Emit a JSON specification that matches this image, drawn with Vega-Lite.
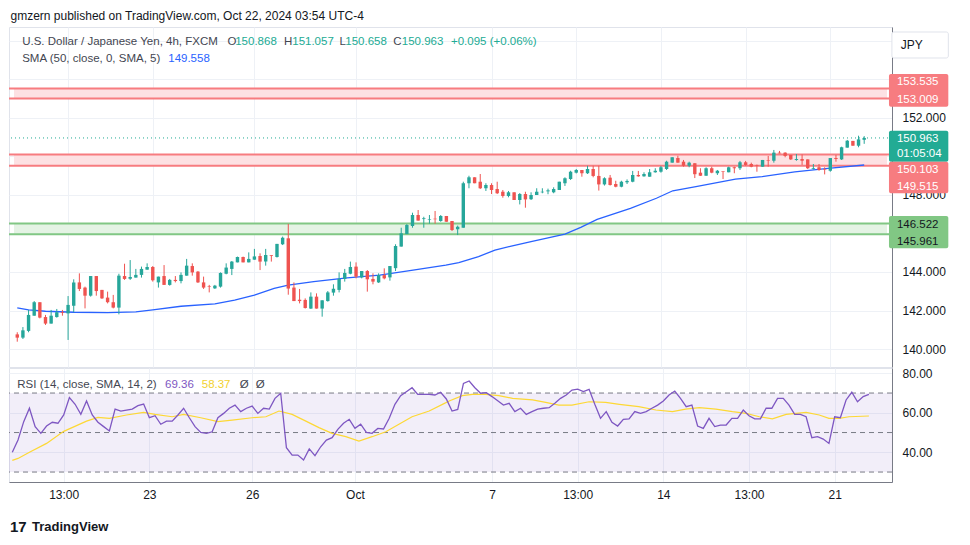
{
  "$schema": "https://vega.github.io/schema/vega-lite/v6.json",
  "background": "#ffffff",
  "padding": {"left": 7, "top": 9, "right": 0, "bottom": 0},
  "title": {"text": "gmzern published on TradingView.com, Oct 22, 2024 03:54 UTC-4", "anchor": "start", "frame": "bounds", "dx": 3, "fontSize": 12, "fontWeight": "normal", "font": "Liberation Sans", "color": "#131722", "offset": 4},
  "config": {
    "view": {"stroke": "#e0e3eb"},
    "axis": {"gridColor": "#eef1f6", "labelFont": "Liberation Sans", "labelFontSize": 12, "labelColor": "#131722", "ticks": false, "tickSize": 0, "domainColor": "#787b86"},
    "text": {"font": "Liberation Sans"}
  },
  "datasets": {
    "candles": [
      {"i":0,"o":140.76,"h":140.87,"l":140.38,"c":140.59,"rsi":40.0},
      {"i":1,"o":140.59,"h":141.14,"l":140.52,"c":140.97,"rsi":46.2},
      {"i":2,"o":140.94,"h":142.03,"l":140.87,"c":141.77,"rsi":55.5},
      {"i":3,"o":141.73,"h":142.49,"l":141.73,"c":142.43,"rsi":62.3},
      {"i":4,"o":142.43,"h":142.43,"l":141.59,"c":141.63,"rsi":53.0},
      {"i":5,"o":141.66,"h":141.77,"l":141.25,"c":141.32,"rsi":49.6},
      {"i":6,"o":141.32,"h":142.03,"l":141.32,"c":141.73,"rsi":53.3},
      {"i":7,"o":141.66,"h":142.08,"l":141.63,"c":141.91,"rsi":55.2},
      {"i":8,"o":141.91,"h":142.03,"l":141.73,"c":141.87,"rsi":54.7},
      {"i":9,"o":141.85,"h":142.75,"l":140.47,"c":142.29,"rsi":58.9},
      {"i":10,"o":142.25,"h":143.62,"l":141.91,"c":143.46,"rsi":67.7},
      {"i":11,"o":143.46,"h":143.93,"l":143.01,"c":143.12,"rsi":64.3},
      {"i":12,"o":143.19,"h":143.24,"l":142.11,"c":142.77,"rsi":59.2},
      {"i":13,"o":142.77,"h":143.79,"l":142.72,"c":143.79,"rsi":66.0},
      {"i":14,"o":143.79,"h":143.79,"l":142.77,"c":143.01,"rsi":58.9},
      {"i":15,"o":143.07,"h":143.07,"l":142.60,"c":142.63,"rsi":55.2},
      {"i":16,"o":142.67,"h":142.98,"l":142.37,"c":142.43,"rsi":53.0},
      {"i":17,"o":142.43,"h":142.81,"l":142.11,"c":142.15,"rsi":50.8},
      {"i":18,"o":142.15,"h":143.91,"l":141.80,"c":143.81,"rsi":61.9},
      {"i":19,"o":143.79,"h":144.43,"l":143.59,"c":143.64,"rsi":60.9},
      {"i":20,"o":143.65,"h":144.62,"l":143.59,"c":143.74,"rsi":61.4},
      {"i":21,"o":143.71,"h":144.16,"l":143.71,"c":143.85,"rsi":61.9},
      {"i":22,"o":143.85,"h":144.28,"l":143.71,"c":144.16,"rsi":63.6},
      {"i":23,"o":144.12,"h":144.45,"l":144.12,"c":144.26,"rsi":64.4},
      {"i":24,"o":144.26,"h":144.31,"l":143.50,"c":143.57,"rsi":57.5},
      {"i":25,"o":143.46,"h":143.76,"l":143.19,"c":143.76,"rsi":58.5},
      {"i":26,"o":143.79,"h":144.36,"l":143.33,"c":143.33,"rsi":54.2},
      {"i":27,"o":143.33,"h":143.64,"l":143.29,"c":143.59,"rsi":55.8},
      {"i":28,"o":143.59,"h":143.79,"l":143.46,"c":143.53,"rsi":55.8},
      {"i":29,"o":143.53,"h":143.98,"l":143.41,"c":143.85,"rsi":58.9},
      {"i":30,"o":143.81,"h":144.68,"l":143.81,"c":144.33,"rsi":62.3},
      {"i":31,"o":144.31,"h":144.45,"l":143.81,"c":143.98,"rsi":57.5},
      {"i":32,"o":144.02,"h":144.05,"l":143.43,"c":143.46,"rsi":53.0},
      {"i":33,"o":143.46,"h":143.76,"l":143.12,"c":143.19,"rsi":50.1},
      {"i":34,"o":143.27,"h":143.33,"l":142.94,"c":143.24,"rsi":49.6},
      {"i":35,"o":143.15,"h":143.33,"l":143.12,"c":143.29,"rsi":50.4},
      {"i":36,"o":143.24,"h":143.98,"l":143.19,"c":143.95,"rsi":57.5},
      {"i":37,"o":143.91,"h":144.45,"l":143.88,"c":144.23,"rsi":59.7},
      {"i":38,"o":144.16,"h":144.57,"l":143.84,"c":144.54,"rsi":62.3},
      {"i":39,"o":144.50,"h":144.80,"l":144.50,"c":144.78,"rsi":63.9},
      {"i":40,"o":144.78,"h":144.80,"l":144.50,"c":144.50,"rsi":60.6},
      {"i":41,"o":144.50,"h":145.02,"l":144.50,"c":144.68,"rsi":62.3},
      {"i":42,"o":144.64,"h":145.20,"l":144.64,"c":144.81,"rsi":63.4},
      {"i":43,"o":144.83,"h":144.97,"l":144.10,"c":144.54,"rsi":59.7},
      {"i":44,"o":144.54,"h":145.20,"l":144.33,"c":144.88,"rsi":62.3},
      {"i":45,"o":144.87,"h":144.87,"l":144.54,"c":144.83,"rsi":61.9},
      {"i":46,"o":144.78,"h":145.46,"l":144.75,"c":145.46,"rsi":67.3},
      {"i":47,"o":145.44,"h":145.84,"l":145.40,"c":145.78,"rsi":69.9},
      {"i":48,"o":145.75,"h":146.50,"l":142.82,"c":143.14,"rsi":42.3},
      {"i":49,"o":143.19,"h":143.46,"l":142.49,"c":142.49,"rsi":38.6},
      {"i":50,"o":142.56,"h":143.12,"l":142.37,"c":142.49,"rsi":38.6},
      {"i":51,"o":142.55,"h":142.63,"l":142.10,"c":142.13,"rsi":36.1},
      {"i":52,"o":142.10,"h":142.94,"l":142.08,"c":142.72,"rsi":41.7},
      {"i":53,"o":142.72,"h":142.89,"l":142.10,"c":142.10,"rsi":38.3},
      {"i":54,"o":142.10,"h":142.53,"l":141.68,"c":142.53,"rsi":42.8},
      {"i":55,"o":142.49,"h":143.01,"l":142.46,"c":142.94,"rsi":46.2},
      {"i":56,"o":142.93,"h":143.36,"l":142.77,"c":143.13,"rsi":47.4},
      {"i":57,"o":143.07,"h":143.98,"l":142.94,"c":143.64,"rsi":51.6},
      {"i":58,"o":143.64,"h":144.16,"l":143.50,"c":143.95,"rsi":54.7},
      {"i":59,"o":143.91,"h":144.54,"l":143.88,"c":144.26,"rsi":56.7},
      {"i":60,"o":144.28,"h":144.50,"l":143.67,"c":143.76,"rsi":52.1},
      {"i":61,"o":143.72,"h":144.05,"l":143.67,"c":144.05,"rsi":54.2},
      {"i":62,"o":144.05,"h":144.10,"l":142.98,"c":143.62,"rsi":50.1},
      {"i":63,"o":143.64,"h":143.93,"l":143.36,"c":143.50,"rsi":49.6},
      {"i":64,"o":143.46,"h":143.93,"l":143.43,"c":143.84,"rsi":52.1},
      {"i":65,"o":143.84,"h":144.19,"l":143.62,"c":143.67,"rsi":51.8},
      {"i":66,"o":143.72,"h":144.31,"l":143.55,"c":144.31,"rsi":57.2},
      {"i":67,"o":144.20,"h":145.44,"l":144.05,"c":145.35,"rsi":64.3},
      {"i":68,"o":145.32,"h":146.30,"l":145.32,"c":146.01,"rsi":68.7},
      {"i":69,"o":145.97,"h":146.49,"l":145.97,"c":146.44,"rsi":70.7},
      {"i":70,"o":146.39,"h":147.08,"l":146.30,"c":146.96,"rsi":72.7},
      {"i":71,"o":146.96,"h":147.22,"l":146.67,"c":146.67,"rsi":69.3},
      {"i":72,"o":146.75,"h":146.87,"l":146.30,"c":146.79,"rsi":69.3},
      {"i":73,"o":146.72,"h":146.96,"l":146.51,"c":146.75,"rsi":69.3},
      {"i":74,"o":146.77,"h":147.17,"l":146.51,"c":146.74,"rsi":69.0},
      {"i":75,"o":146.65,"h":146.96,"l":146.61,"c":146.91,"rsi":70.4},
      {"i":76,"o":146.91,"h":146.91,"l":146.61,"c":146.61,"rsi":67.0},
      {"i":77,"o":146.65,"h":146.65,"l":146.13,"c":146.18,"rsi":60.9},
      {"i":78,"o":146.22,"h":146.41,"l":145.92,"c":146.35,"rsi":61.7},
      {"i":79,"o":146.30,"h":148.69,"l":146.30,"c":148.61,"rsi":74.9},
      {"i":80,"o":148.61,"h":149.00,"l":148.35,"c":148.92,"rsi":76.1},
      {"i":81,"o":148.92,"h":148.92,"l":148.61,"c":148.61,"rsi":72.7},
      {"i":82,"o":148.69,"h":149.09,"l":148.31,"c":148.35,"rsi":69.9},
      {"i":83,"o":148.35,"h":148.61,"l":148.21,"c":148.52,"rsi":70.2},
      {"i":84,"o":148.52,"h":148.61,"l":148.05,"c":148.26,"rsi":68.2},
      {"i":85,"o":148.31,"h":148.69,"l":148.05,"c":148.09,"rsi":66.1},
      {"i":86,"o":148.17,"h":148.26,"l":147.86,"c":147.95,"rsi":63.9},
      {"i":87,"o":147.95,"h":148.21,"l":147.88,"c":148.14,"rsi":64.8},
      {"i":88,"o":148.14,"h":148.14,"l":147.74,"c":147.74,"rsi":60.6},
      {"i":89,"o":147.74,"h":148.10,"l":147.51,"c":148.05,"rsi":62.3},
      {"i":90,"o":148.05,"h":148.17,"l":147.34,"c":147.77,"rsi":59.2},
      {"i":91,"o":147.78,"h":148.14,"l":147.74,"c":148.00,"rsi":60.6},
      {"i":92,"o":148.00,"h":148.35,"l":148.00,"c":148.17,"rsi":61.9},
      {"i":93,"o":148.14,"h":148.35,"l":148.09,"c":148.17,"rsi":62.3},
      {"i":94,"o":148.19,"h":148.33,"l":148.04,"c":148.24,"rsi":62.6},
      {"i":95,"o":148.14,"h":148.40,"l":148.09,"c":148.31,"rsi":64.8},
      {"i":96,"o":148.26,"h":148.69,"l":148.26,"c":148.69,"rsi":67.3},
      {"i":97,"o":148.61,"h":148.92,"l":148.47,"c":148.87,"rsi":69.0},
      {"i":98,"o":148.83,"h":149.26,"l":148.78,"c":149.21,"rsi":71.5},
      {"i":99,"o":149.16,"h":149.35,"l":149.12,"c":149.30,"rsi":72.0},
      {"i":100,"o":149.30,"h":149.30,"l":148.95,"c":149.13,"rsi":70.7},
      {"i":101,"o":149.13,"h":149.52,"l":149.09,"c":149.35,"rsi":71.9},
      {"i":102,"o":149.35,"h":149.52,"l":148.92,"c":148.99,"rsi":64.3},
      {"i":103,"o":148.99,"h":149.52,"l":148.23,"c":148.55,"rsi":57.2},
      {"i":104,"o":148.55,"h":148.92,"l":148.49,"c":148.87,"rsi":60.6},
      {"i":105,"o":148.90,"h":149.04,"l":148.49,"c":148.52,"rsi":55.2},
      {"i":106,"o":148.57,"h":148.74,"l":148.40,"c":148.43,"rsi":53.3},
      {"i":107,"o":148.43,"h":148.74,"l":148.40,"c":148.69,"rsi":56.7},
      {"i":108,"o":148.66,"h":148.81,"l":148.57,"c":148.73,"rsi":56.9},
      {"i":109,"o":148.69,"h":149.25,"l":148.66,"c":149.04,"rsi":60.6},
      {"i":110,"o":149.04,"h":149.25,"l":148.95,"c":148.97,"rsi":59.7},
      {"i":111,"o":148.97,"h":149.18,"l":148.95,"c":149.09,"rsi":60.6},
      {"i":112,"o":148.95,"h":149.35,"l":148.95,"c":149.18,"rsi":62.3},
      {"i":113,"o":149.18,"h":149.39,"l":149.16,"c":149.26,"rsi":63.9},
      {"i":114,"o":149.21,"h":149.51,"l":149.16,"c":149.44,"rsi":66.0},
      {"i":115,"o":149.35,"h":149.78,"l":149.30,"c":149.73,"rsi":69.0},
      {"i":116,"o":149.68,"h":149.96,"l":149.68,"c":149.96,"rsi":71.0},
      {"i":117,"o":149.92,"h":150.04,"l":149.68,"c":149.68,"rsi":67.3},
      {"i":118,"o":149.73,"h":149.82,"l":149.47,"c":149.52,"rsi":63.1},
      {"i":119,"o":149.52,"h":149.73,"l":149.44,"c":149.68,"rsi":63.9},
      {"i":120,"o":149.65,"h":149.65,"l":148.88,"c":149.08,"rsi":53.3},
      {"i":121,"o":149.16,"h":149.39,"l":148.99,"c":149.00,"rsi":52.1},
      {"i":122,"o":149.00,"h":149.44,"l":149.00,"c":149.39,"rsi":57.2},
      {"i":123,"o":149.39,"h":149.47,"l":149.13,"c":149.16,"rsi":53.0},
      {"i":124,"o":149.13,"h":149.30,"l":149.04,"c":149.26,"rsi":53.8},
      {"i":125,"o":149.23,"h":149.23,"l":148.83,"c":149.20,"rsi":53.8},
      {"i":126,"o":149.18,"h":149.47,"l":149.18,"c":149.44,"rsi":57.2},
      {"i":127,"o":149.44,"h":149.47,"l":149.13,"c":149.39,"rsi":57.2},
      {"i":128,"o":149.39,"h":149.77,"l":149.30,"c":149.70,"rsi":61.4},
      {"i":129,"o":149.70,"h":149.77,"l":149.52,"c":149.56,"rsi":58.5},
      {"i":130,"o":149.61,"h":149.68,"l":149.44,"c":149.47,"rsi":56.9},
      {"i":131,"o":149.54,"h":149.58,"l":149.21,"c":149.51,"rsi":56.9},
      {"i":132,"o":149.47,"h":149.82,"l":149.47,"c":149.82,"rsi":62.3},
      {"i":133,"o":149.80,"h":150.03,"l":149.47,"c":149.77,"rsi":62.3},
      {"i":134,"o":149.78,"h":150.34,"l":149.68,"c":150.20,"rsi":67.3},
      {"i":135,"o":150.20,"h":150.29,"l":150.16,"c":150.16,"rsi":67.3},
      {"i":136,"o":150.20,"h":150.22,"l":149.96,"c":150.03,"rsi":63.9},
      {"i":137,"o":150.08,"h":150.08,"l":149.82,"c":149.85,"rsi":59.2},
      {"i":138,"o":149.82,"h":150.13,"l":149.78,"c":149.87,"rsi":59.2},
      {"i":139,"o":149.87,"h":150.11,"l":149.56,"c":149.78,"rsi":58.0},
      {"i":140,"o":149.85,"h":149.85,"l":149.35,"c":149.39,"rsi":47.4},
      {"i":141,"o":149.35,"h":149.61,"l":149.33,"c":149.39,"rsi":47.9},
      {"i":142,"o":149.44,"h":149.61,"l":149.26,"c":149.30,"rsi":46.7},
      {"i":143,"o":149.33,"h":149.44,"l":149.07,"c":149.30,"rsi":44.5},
      {"i":144,"o":149.26,"h":149.92,"l":149.21,"c":149.92,"rsi":58.0},
      {"i":145,"o":149.92,"h":150.08,"l":149.73,"c":149.87,"rsi":57.5},
      {"i":146,"o":149.85,"h":150.51,"l":149.82,"c":150.48,"rsi":66.5},
      {"i":147,"o":150.46,"h":150.86,"l":150.46,"c":150.82,"rsi":70.4},
      {"i":148,"o":150.81,"h":150.81,"l":150.56,"c":150.56,"rsi":65.6},
      {"i":149,"o":150.56,"h":151.08,"l":150.48,"c":150.89,"rsi":68.2},
      {"i":150,"o":150.868,"h":151.057,"l":150.658,"c":150.963,"rsi":69.36}
    ],
    "sma": [
      {"i":0,"v":142.14},{"i":2,"v":142.03},{"i":5,"v":141.96},{"i":10,"v":141.91},{"i":16,"v":141.89},
      {"i":21,"v":141.93},{"i":24,"v":142.03},{"i":29,"v":142.22},{"i":35,"v":142.34},{"i":38.5,"v":142.54},
      {"i":42,"v":142.80},{"i":45.5,"v":143.15},{"i":48,"v":143.32},{"i":52.5,"v":143.50},{"i":58.4,"v":143.69},
      {"i":64.2,"v":143.84},{"i":70.1,"v":144.10},{"i":75.9,"v":144.36},{"i":78.2,"v":144.49},{"i":81.7,"v":144.80},
      {"i":84.6,"v":145.14},{"i":87.5,"v":145.35},{"i":91,"v":145.58},{"i":97,"v":145.97},{"i":99.8,"v":146.32},
      {"i":102.7,"v":146.73},{"i":108.6,"v":147.31},{"i":113.2,"v":147.83},{"i":116.1,"v":148.22},{"i":120.2,"v":148.43},
      {"i":127.2,"v":148.83},{"i":131.9,"v":148.95},{"i":137.7,"v":149.20},{"i":143.6,"v":149.38},{"i":150,"v":149.558}
    ],
    "rsima": [
      {"i":0,"v":35.9},{"i":1,"v":36.9},{"i":3,"v":40.0},{"i":6,"v":44.5},{"i":9,"v":50.6},{"i":13,"v":55.8},
      {"i":15,"v":57.7},{"i":17,"v":57.2},{"i":20,"v":58.9},{"i":23,"v":60.2},{"i":25,"v":59.2},{"i":28,"v":58.0},
      {"i":30,"v":59.2},{"i":33,"v":57.5},{"i":36,"v":55.5},{"i":38.5,"v":56.3},{"i":42,"v":57.5},{"i":44.4,"v":58.0},
      {"i":46.7,"v":60.9},{"i":49,"v":59.2},{"i":51.4,"v":55.8},{"i":53.7,"v":52.5},{"i":56,"v":49.6},{"i":58.4,"v":47.9},
      {"i":60.7,"v":45.7},{"i":63,"v":47.9},{"i":65.4,"v":50.4},{"i":67.7,"v":54.2},{"i":70,"v":58.0},{"i":73,"v":60.9},
      {"i":75.5,"v":64.5},{"i":76.5,"v":66.0},{"i":78.8,"v":68.7},{"i":80.6,"v":69.3},{"i":82.9,"v":69.3},{"i":85.2,"v":68.7},
      {"i":87.6,"v":67.3},{"i":91.1,"v":66.5},{"i":93.4,"v":65.3},{"i":95.7,"v":63.9},{"i":98,"v":63.9},{"i":101,"v":65.6},
      {"i":103.9,"v":65.3},{"i":106.3,"v":64.3},{"i":109.7,"v":63.1},{"i":112.7,"v":61.4},{"i":115.6,"v":60.6},{"i":117.9,"v":61.9},
      {"i":120.3,"v":62.6},{"i":123.2,"v":61.9},{"i":126.1,"v":60.6},{"i":128.5,"v":59.7},{"i":130.8,"v":58.0},{"i":133.1,"v":56.9},
      {"i":135.5,"v":59.2},{"i":139,"v":60.2},{"i":141.3,"v":58.9},{"i":143,"v":57.2},{"i":144.8,"v":57.2},{"i":146.5,"v":58.0},
      {"i":150,"v":58.37}
    ],
    "zones": [
      {"lo":153.009,"hi":153.535,"kind":"resistance"},
      {"lo":149.515,"hi":150.103,"kind":"resistance"},
      {"lo":145.961,"hi":146.522,"kind":"support"}
    ]
  },
  "bounds": "flush",
  "spacing": 1,
  "vconcat": [
    {
      "width": 883,
      "height": 340,
      "layer": [
        {
          "data": {"name": "zones"},
          "mark": {"type": "rect"},
          "encoding": {
            "x": {"datum": -0.578, "type": "quantitative", "title": null,
                  "scale": {"domain": [-0.578, 154.04], "nice": false, "zero": false},
                  "axis": {"values": [9,24,42,60,84,99,114,129,144], "labels": false, "domain": false, "ticks": false, "grid": true, "title": null}},
            "x2": {"datum": 154.04},
            "y": {"field": "lo", "type": "quantitative", "title": null,
                  "scale": {"domain": [139.065, 156.727], "nice": false, "zero": false},
                  "axis": {"orient": "right", "values": [140,142,144,146,148,150,152,154,156], "labelExpr": "datum.value == 146 || datum.value == 150 || datum.value == 154 || datum.value == 156 ? '' : format(datum.value, '.3f')", "labelPadding": 10, "grid": true, "domain": true, "title": null}},
            "y2": {"field": "hi"},
            "fill": {"field": "kind", "type": "nominal", "legend": null, "scale": {"domain": ["resistance","support"], "range": ["#fde1e3","#e4f3e4"]}}
          }
        },
        {
          "data": {"name": "zones"},
          "mark": {"type": "rule", "strokeWidth": 2},
          "encoding": {
            "y": {"field": "hi", "type": "quantitative", "title": null},
            "stroke": {"field": "kind", "type": "nominal", "legend": null, "scale": {"domain": ["resistance","support"], "range": ["#f77c80","#81c784"]}}
          }
        },
        {
          "data": {"name": "zones"},
          "mark": {"type": "rule", "strokeWidth": 2},
          "encoding": {
            "y": {"field": "lo", "type": "quantitative", "title": null},
            "stroke": {"field": "kind", "type": "nominal", "legend": null}
          }
        },
        {
          "data": {"name": "sma"},
          "mark": {"type": "line", "color": "#2962ff", "strokeWidth": 1.3},
          "encoding": {
            "x": {"field": "i", "type": "quantitative", "title": null},
            "y": {"field": "v", "type": "quantitative", "title": null}
          }
        },
        {
          "data": {"name": "candles"},
          "mark": {"type": "rule", "strokeWidth": 1},
          "encoding": {
            "x": {"field": "i", "type": "quantitative", "title": null},
            "y": {"field": "l", "type": "quantitative", "title": null},
            "y2": {"field": "h"},
            "color": {"condition": {"test": "datum.c < datum.o", "value": "#ef5350"}, "value": "#26a69a"}
          }
        },
        {
          "data": {"name": "candles"},
          "mark": {"type": "bar", "width": 3.4, "minBandSize": 1},
          "encoding": {
            "x": {"field": "i", "type": "quantitative", "title": null},
            "y": {"field": "o", "type": "quantitative", "title": null},
            "y2": {"field": "c"},
            "color": {"condition": {"test": "datum.c < datum.o", "value": "#ef5350"}, "value": "#26a69a"}
          }
        },
        {
          "data": {"values": [{}]},
          "mark": {"type": "rule", "color": "#22ab94", "strokeDash": [1, 3], "strokeWidth": 1},
          "encoding": {"y": {"datum": 150.963}}
        },
        {"data": {"values": [{}]}, "mark": {"type": "text", "align": "left", "baseline": "middle", "fontSize": 11.5, "color": "#434651"},
         "encoding": {"x": {"datum": 0.875}, "y": {"datum": 155.964}, "text": {"value": "U.S. Dollar / Japanese Yen, 4h, FXCM"}}},
        {"data": {"values": [{}]}, "mark": {"type": "text", "align": "left", "baseline": "middle", "fontSize": 11.5, "color": "#434651"},
         "encoding": {"x": {"datum": 37.25}, "y": {"datum": 155.964}, "text": {"value": "O"}}},
        {"data": {"values": [{}]}, "mark": {"type": "text", "align": "left", "baseline": "middle", "fontSize": 11.5, "color": "#22ab94"},
         "encoding": {"x": {"datum": 38.6}, "y": {"datum": 155.964}, "text": {"value": "150.868"}}},
        {"data": {"values": [{}]}, "mark": {"type": "text", "align": "left", "baseline": "middle", "fontSize": 11.5, "color": "#434651"},
         "encoding": {"x": {"datum": 47.22}, "y": {"datum": 155.964}, "text": {"value": "H"}}},
        {"data": {"values": [{}]}, "mark": {"type": "text", "align": "left", "baseline": "middle", "fontSize": 11.5, "color": "#22ab94"},
         "encoding": {"x": {"datum": 48.7}, "y": {"datum": 155.964}, "text": {"value": "151.057"}}},
        {"data": {"values": [{}]}, "mark": {"type": "text", "align": "left", "baseline": "middle", "fontSize": 11.5, "color": "#434651"},
         "encoding": {"x": {"datum": 57.08}, "y": {"datum": 155.964}, "text": {"value": "L"}}},
        {"data": {"values": [{}]}, "mark": {"type": "text", "align": "left", "baseline": "middle", "fontSize": 11.5, "color": "#22ab94"},
         "encoding": {"x": {"datum": 58.1}, "y": {"datum": 155.964}, "text": {"value": "150.658"}}},
        {"data": {"values": [{}]}, "mark": {"type": "text", "align": "left", "baseline": "middle", "fontSize": 11.5, "color": "#434651"},
         "encoding": {"x": {"datum": 66.6}, "y": {"datum": 155.964}, "text": {"value": "C"}}},
        {"data": {"values": [{}]}, "mark": {"type": "text", "align": "left", "baseline": "middle", "fontSize": 11.5, "color": "#22ab94"},
         "encoding": {"x": {"datum": 68.1}, "y": {"datum": 155.964}, "text": {"value": "150.963"}}},
        {"data": {"values": [{}]}, "mark": {"type": "text", "align": "left", "baseline": "middle", "fontSize": 11.5, "color": "#22ab94"},
         "encoding": {"x": {"datum": 76.82}, "y": {"datum": 155.964}, "text": {"value": "+0.095 (+0.06%)"}}},
        {"data": {"values": [{}]}, "mark": {"type": "text", "align": "left", "baseline": "middle", "fontSize": 11.5, "color": "#434651"},
         "encoding": {"x": {"datum": 0.875}, "y": {"datum": 155.049}, "text": {"value": "SMA (50, close, 0, SMA, 5)"}}},
        {"data": {"values": [{}]}, "mark": {"type": "text", "align": "left", "baseline": "middle", "fontSize": 11.5, "color": "#2962ff"},
         "encoding": {"x": {"datum": 26.74}, "y": {"datum": 155.049}, "text": {"value": "149.558"}}},
        {"data": {"values": [{}]}, "mark": {"type": "rect", "color": "#ffffff", "stroke": "#e0e3eb", "strokeWidth": 1, "cornerRadius": 2},
         "encoding": {"x": {"datum": 154.91}, "x2": {"datum": 164.9}, "y": {"datum": 156.468}, "y2": {"datum": 155.117}}},
        {"data": {"values": [{}]}, "mark": {"type": "text", "align": "left", "baseline": "middle", "fontSize": 12, "color": "#131722"},
         "encoding": {"x": {"datum": 156.49}, "y": {"datum": 155.79}, "text": {"value": "JPY"}}},
        {"data": {"values": [{}]}, "mark": {"type": "rect", "color": "#f77c80", "cornerRadius": 2},
         "encoding": {"x": {"datum": 154.39}, "x2": {"datum": 164.9}, "y": {"datum": 154.286}, "y2": {"datum": 152.587}}},
        {"data": {"values": [{}]}, "mark": {"type": "rect", "color": "#22ab94", "cornerRadius": 2},
         "encoding": {"x": {"datum": 154.39}, "x2": {"datum": 164.9}, "y": {"datum": 151.34}, "y2": {"datum": 149.73}}},
        {"data": {"values": [{}]}, "mark": {"type": "rect", "color": "#f77c80", "cornerRadius": 2},
         "encoding": {"x": {"datum": 154.39}, "x2": {"datum": 164.9}, "y": {"datum": 149.73}, "y2": {"datum": 148.088}}},
        {"data": {"values": [{}]}, "mark": {"type": "rect", "color": "#81c784", "cornerRadius": 2},
         "encoding": {"x": {"datum": 154.39}, "x2": {"datum": 164.9}, "y": {"datum": 146.909}, "y2": {"datum": 145.231}}},
        {"data": {"values": [{}]}, "mark": {"type": "text", "align": "left", "baseline": "middle", "fontSize": 11.5, "color": "#ffffff"},
         "encoding": {"x": {"datum": 155.79}, "y": {"datum": 153.85}, "text": {"value": "153.535"}}},
        {"data": {"values": [{}]}, "mark": {"type": "text", "align": "left", "baseline": "middle", "fontSize": 11.5, "color": "#ffffff"},
         "encoding": {"x": {"datum": 155.79}, "y": {"datum": 152.92}, "text": {"value": "153.009"}}},
        {"data": {"values": [{}]}, "mark": {"type": "text", "align": "left", "baseline": "middle", "fontSize": 11.5, "color": "#ffffff"},
         "encoding": {"x": {"datum": 155.79}, "y": {"datum": 150.91}, "text": {"value": "150.963"}}},
        {"data": {"values": [{}]}, "mark": {"type": "text", "align": "left", "baseline": "middle", "fontSize": 11.5, "color": "#ffffff"},
         "encoding": {"x": {"datum": 155.79}, "y": {"datum": 150.115}, "text": {"value": "01:05:04"}}},
        {"data": {"values": [{}]}, "mark": {"type": "text", "align": "left", "baseline": "middle", "fontSize": 11.5, "color": "#ffffff"},
         "encoding": {"x": {"datum": 155.79}, "y": {"datum": 149.315}, "text": {"value": "150.103"}}},
        {"data": {"values": [{}]}, "mark": {"type": "text", "align": "left", "baseline": "middle", "fontSize": 11.5, "color": "#ffffff"},
         "encoding": {"x": {"datum": 155.79}, "y": {"datum": 148.415}, "text": {"value": "149.515"}}},
        {"data": {"values": [{}]}, "mark": {"type": "text", "align": "left", "baseline": "middle", "fontSize": 11.5, "color": "#131722"},
         "encoding": {"x": {"datum": 155.79}, "y": {"datum": 146.46}, "text": {"value": "146.522"}}},
        {"data": {"values": [{}]}, "mark": {"type": "text", "align": "left", "baseline": "middle", "fontSize": 11.5, "color": "#131722"},
         "encoding": {"x": {"datum": 155.79}, "y": {"datum": 145.56}, "text": {"value": "145.961"}}}
      ]
    },
    {
      "width": 883,
      "height": 114,
      "layer": [
        {
          "data": {"values": [{}]},
          "mark": {"type": "rect", "color": "#7e57c2", "opacity": 0.1},
          "encoding": {
            "x": {"datum": -0.578, "type": "quantitative", "title": null,
                  "scale": {"domain": [-0.578, 154.04], "nice": false, "zero": false},
                  "axis": {"values": [9,24,42,60,84,99,114,129,144], "grid": true, "domain": true, "ticks": false, "labelPadding": 7, "title": null,
                           "labelExpr": "datum.value == 9 ? '13:00' : datum.value == 24 ? '23' : datum.value == 42 ? '26' : datum.value == 60 ? 'Oct' : datum.value == 84 ? '7' : datum.value == 99 ? '13:00' : datum.value == 114 ? '14' : datum.value == 129 ? '13:00' : '21'"}},
            "x2": {"datum": 154.04},
            "y": {"datum": 70, "type": "quantitative", "title": null,
                  "scale": {"domain": [24.96, 82.68], "nice": false, "zero": false},
                  "axis": {"orient": "right", "values": [40, 60, 80], "format": ".2f", "labelPadding": 10, "grid": true, "domain": true, "title": null}},
            "y2": {"datum": 30}
          }
        },
        {
          "data": {"values": [{"level": 70}, {"level": 50}, {"level": 30}]},
          "mark": {"type": "rule", "color": "#787b86", "strokeDash": [5, 4], "strokeWidth": 1},
          "encoding": {"y": {"field": "level", "type": "quantitative", "title": null}}
        },
        {
          "data": {"name": "rsima"},
          "mark": {"type": "line", "color": "#fdd835", "strokeWidth": 1.2},
          "encoding": {
            "x": {"field": "i", "type": "quantitative", "title": null},
            "y": {"field": "v", "type": "quantitative", "title": null}
          }
        },
        {
          "data": {"name": "candles"},
          "mark": {"type": "line", "color": "#7e57c2", "strokeWidth": 1.3},
          "encoding": {
            "x": {"field": "i", "type": "quantitative", "title": null},
            "y": {"field": "rsi", "type": "quantitative", "title": null}
          }
        },
        {"data": {"values": [{}]}, "mark": {"type": "text", "align": "left", "baseline": "middle", "fontSize": 11.5, "color": "#434651"},
         "encoding": {"x": {"datum": 0.875}, "y": {"datum": 74.08}, "text": {"value": "RSI (14, close, SMA, 14, 2)"}}},
        {"data": {"values": [{}]}, "mark": {"type": "text", "align": "left", "baseline": "middle", "fontSize": 11.5, "color": "#7e57c2"},
         "encoding": {"x": {"datum": 26.74}, "y": {"datum": 74.08}, "text": {"value": "69.36"}}},
        {"data": {"values": [{}]}, "mark": {"type": "text", "align": "left", "baseline": "middle", "fontSize": 11.5, "color": "#f2d12e"},
         "encoding": {"x": {"datum": 33.17}, "y": {"datum": 74.08}, "text": {"value": "58.37"}}},
        {"data": {"values": [{}]}, "mark": {"type": "text", "align": "left", "baseline": "middle", "fontSize": 11.5, "color": "#434651"},
         "encoding": {"x": {"datum": 39.82}, "y": {"datum": 74.08}, "text": {"value": "Ø"}}},
        {"data": {"values": [{}]}, "mark": {"type": "text", "align": "left", "baseline": "middle", "fontSize": 11.5, "color": "#434651"},
         "encoding": {"x": {"datum": 42.62}, "y": {"datum": 74.08}, "text": {"value": "Ø"}}},
        {"data": {"values": [{}]}, "mark": {"type": "text", "align": "left", "baseline": "middle", "fontSize": 15, "fontWeight": "bold", "color": "#131722"},
         "encoding": {"x": {"datum": -0.4}, "y": {"datum": 2.18}, "text": {"value": "17"}}},
        {"data": {"values": [{}]}, "mark": {"type": "text", "align": "left", "baseline": "middle", "fontSize": 13, "fontWeight": "bold", "color": "#131722"},
         "encoding": {"x": {"datum": 3.45}, "y": {"datum": 2.18}, "text": {"value": "TradingView"}}}
      ]
    }
  ]
}
